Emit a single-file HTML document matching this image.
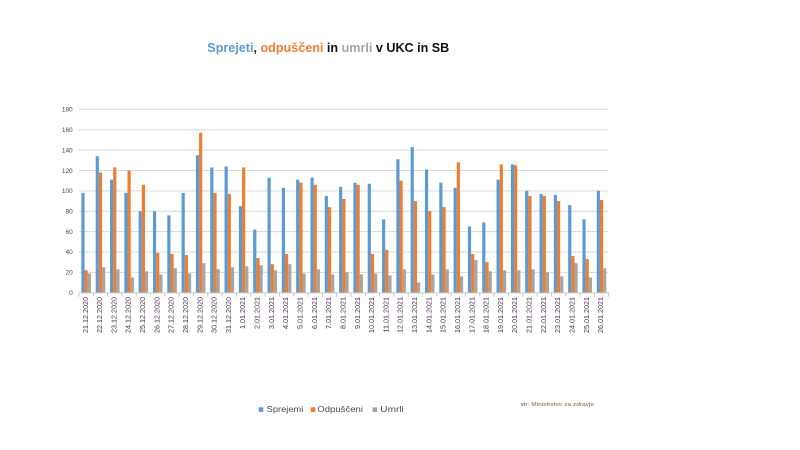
<!DOCTYPE html>
<html>
<head>
<meta charset="utf-8">
<style>
html,body{margin:0;padding:0;background:#fff;}
svg{display:block;}
text{font-family:"Liberation Sans",Arial,sans-serif;}
</style>
</head>
<body>
<svg width="800" height="450" viewBox="0 0 800 450" xmlns="http://www.w3.org/2000/svg">
<rect width="800" height="450" fill="#fff"/>
<!-- Title -->
<text x="207.3" y="52" font-size="13" font-weight="bold" textLength="242" lengthAdjust="spacingAndGlyphs"><tspan fill="#5b9bd5">Sprejeti</tspan><tspan fill="#222">, </tspan><tspan fill="#ed7d31">odpuščeni</tspan><tspan fill="#111"> in </tspan><tspan fill="#a5a5a5">umrli</tspan><tspan fill="#111"> v UKC in SB</tspan></text>

<!-- gridlines -->
<g stroke="#d9d9d9" stroke-width="1">
<line x1="79" x2="608.7" y1="272.33" y2="272.33"/>
<line x1="79" x2="608.7" y1="251.96" y2="251.96"/>
<line x1="79" x2="608.7" y1="231.59" y2="231.59"/>
<line x1="79" x2="608.7" y1="211.22" y2="211.22"/>
<line x1="79" x2="608.7" y1="190.85" y2="190.85"/>
<line x1="79" x2="608.7" y1="170.48" y2="170.48"/>
<line x1="79" x2="608.7" y1="150.11" y2="150.11"/>
<line x1="79" x2="608.7" y1="129.74" y2="129.74"/>
<line x1="79" x2="608.7" y1="109.37" y2="109.37"/>
</g>

<!-- y labels -->
<g font-size="6.5" fill="#454560" text-anchor="end">
<text x="72.7" y="295">0</text>
<text x="72.7" y="274.6">20</text>
<text x="72.7" y="254.2">40</text>
<text x="72.7" y="233.9">60</text>
<text x="72.7" y="213.5">80</text>
<text x="72.7" y="193.1">100</text>
<text x="72.7" y="172.8">120</text>
<text x="72.7" y="152.4">140</text>
<text x="72.7" y="132">160</text>
<text x="72.7" y="111.7">180</text>
</g>

<!-- bars -->
<g transform="translate(79,292.7) scale(14.316,-1.0185)">
<g fill="#5b9bd5">
<rect x="0.1667" y="0" width="0.2222" height="98"/>
<rect x="1.1667" y="0" width="0.2222" height="134"/>
<rect x="2.1667" y="0" width="0.2222" height="111"/>
<rect x="3.1667" y="0" width="0.2222" height="98"/>
<rect x="4.1667" y="0" width="0.2222" height="80"/>
<rect x="5.1667" y="0" width="0.2222" height="80"/>
<rect x="6.1667" y="0" width="0.2222" height="76"/>
<rect x="7.1667" y="0" width="0.2222" height="98"/>
<rect x="8.1667" y="0" width="0.2222" height="135"/>
<rect x="9.1667" y="0" width="0.2222" height="123"/>
<rect x="10.1667" y="0" width="0.2222" height="124"/>
<rect x="11.1667" y="0" width="0.2222" height="85"/>
<rect x="12.1667" y="0" width="0.2222" height="62"/>
<rect x="13.1667" y="0" width="0.2222" height="113"/>
<rect x="14.1667" y="0" width="0.2222" height="103"/>
<rect x="15.1667" y="0" width="0.2222" height="111"/>
<rect x="16.1667" y="0" width="0.2222" height="113"/>
<rect x="17.1667" y="0" width="0.2222" height="95"/>
<rect x="18.1667" y="0" width="0.2222" height="104"/>
<rect x="19.1667" y="0" width="0.2222" height="108"/>
<rect x="20.1667" y="0" width="0.2222" height="107"/>
<rect x="21.1667" y="0" width="0.2222" height="72"/>
<rect x="22.1667" y="0" width="0.2222" height="131"/>
<rect x="23.1667" y="0" width="0.2222" height="143"/>
<rect x="24.1667" y="0" width="0.2222" height="121"/>
<rect x="25.1667" y="0" width="0.2222" height="108"/>
<rect x="26.1667" y="0" width="0.2222" height="103"/>
<rect x="27.1667" y="0" width="0.2222" height="65"/>
<rect x="28.1667" y="0" width="0.2222" height="69"/>
<rect x="29.1667" y="0" width="0.2222" height="111"/>
<rect x="30.1667" y="0" width="0.2222" height="126"/>
<rect x="31.1667" y="0" width="0.2222" height="100"/>
<rect x="32.1667" y="0" width="0.2222" height="97"/>
<rect x="33.1667" y="0" width="0.2222" height="96"/>
<rect x="34.1667" y="0" width="0.2222" height="86"/>
<rect x="35.1667" y="0" width="0.2222" height="72"/>
<rect x="36.1667" y="0" width="0.2222" height="100"/>
</g>
<g fill="#ed7d31">
<rect x="0.3889" y="0" width="0.2222" height="22"/>
<rect x="1.3889" y="0" width="0.2222" height="118"/>
<rect x="2.3889" y="0" width="0.2222" height="123"/>
<rect x="3.3889" y="0" width="0.2222" height="120"/>
<rect x="4.3889" y="0" width="0.2222" height="106"/>
<rect x="5.3889" y="0" width="0.2222" height="39"/>
<rect x="6.3889" y="0" width="0.2222" height="38"/>
<rect x="7.3889" y="0" width="0.2222" height="37"/>
<rect x="8.3889" y="0" width="0.2222" height="157"/>
<rect x="9.3889" y="0" width="0.2222" height="98"/>
<rect x="10.3889" y="0" width="0.2222" height="97"/>
<rect x="11.3889" y="0" width="0.2222" height="123"/>
<rect x="12.3889" y="0" width="0.2222" height="34"/>
<rect x="13.3889" y="0" width="0.2222" height="28"/>
<rect x="14.3889" y="0" width="0.2222" height="38"/>
<rect x="15.3889" y="0" width="0.2222" height="108"/>
<rect x="16.3889" y="0" width="0.2222" height="106"/>
<rect x="17.3889" y="0" width="0.2222" height="84"/>
<rect x="18.3889" y="0" width="0.2222" height="92"/>
<rect x="19.3889" y="0" width="0.2222" height="106"/>
<rect x="20.3889" y="0" width="0.2222" height="38"/>
<rect x="21.3889" y="0" width="0.2222" height="42"/>
<rect x="22.3889" y="0" width="0.2222" height="110"/>
<rect x="23.3889" y="0" width="0.2222" height="90"/>
<rect x="24.3889" y="0" width="0.2222" height="80"/>
<rect x="25.3889" y="0" width="0.2222" height="84"/>
<rect x="26.3889" y="0" width="0.2222" height="128"/>
<rect x="27.3889" y="0" width="0.2222" height="38"/>
<rect x="28.3889" y="0" width="0.2222" height="30"/>
<rect x="29.3889" y="0" width="0.2222" height="126"/>
<rect x="30.3889" y="0" width="0.2222" height="125"/>
<rect x="31.3889" y="0" width="0.2222" height="95"/>
<rect x="32.3889" y="0" width="0.2222" height="95"/>
<rect x="33.3889" y="0" width="0.2222" height="90"/>
<rect x="34.3889" y="0" width="0.2222" height="36"/>
<rect x="35.3889" y="0" width="0.2222" height="33"/>
<rect x="36.3889" y="0" width="0.2222" height="91"/>
</g>
<g fill="#a5a5a5">
<rect x="0.6111" y="0" width="0.2222" height="19"/>
<rect x="1.6111" y="0" width="0.2222" height="25"/>
<rect x="2.6111" y="0" width="0.2222" height="23"/>
<rect x="3.6111" y="0" width="0.2222" height="15"/>
<rect x="4.6111" y="0" width="0.2222" height="21"/>
<rect x="5.6111" y="0" width="0.2222" height="18"/>
<rect x="6.6111" y="0" width="0.2222" height="24"/>
<rect x="7.6111" y="0" width="0.2222" height="19"/>
<rect x="8.6111" y="0" width="0.2222" height="29"/>
<rect x="9.6111" y="0" width="0.2222" height="23"/>
<rect x="10.6111" y="0" width="0.2222" height="25"/>
<rect x="11.6111" y="0" width="0.2222" height="26"/>
<rect x="12.6111" y="0" width="0.2222" height="27"/>
<rect x="13.6111" y="0" width="0.2222" height="22"/>
<rect x="14.6111" y="0" width="0.2222" height="28"/>
<rect x="15.6111" y="0" width="0.2222" height="19"/>
<rect x="16.6111" y="0" width="0.2222" height="23"/>
<rect x="17.6111" y="0" width="0.2222" height="18"/>
<rect x="18.6111" y="0" width="0.2222" height="20"/>
<rect x="19.6111" y="0" width="0.2222" height="18"/>
<rect x="20.6111" y="0" width="0.2222" height="19"/>
<rect x="21.6111" y="0" width="0.2222" height="17"/>
<rect x="22.6111" y="0" width="0.2222" height="23"/>
<rect x="23.6111" y="0" width="0.2222" height="10"/>
<rect x="24.6111" y="0" width="0.2222" height="18"/>
<rect x="25.6111" y="0" width="0.2222" height="23"/>
<rect x="26.6111" y="0" width="0.2222" height="16"/>
<rect x="27.6111" y="0" width="0.2222" height="32"/>
<rect x="28.6111" y="0" width="0.2222" height="21"/>
<rect x="29.6111" y="0" width="0.2222" height="22"/>
<rect x="30.6111" y="0" width="0.2222" height="22"/>
<rect x="31.6111" y="0" width="0.2222" height="23"/>
<rect x="32.6111" y="0" width="0.2222" height="20"/>
<rect x="33.6111" y="0" width="0.2222" height="16"/>
<rect x="34.6111" y="0" width="0.2222" height="29"/>
<rect x="35.6111" y="0" width="0.2222" height="15"/>
<rect x="36.6111" y="0" width="0.2222" height="24"/>
</g>
<!-- ticks -->
<path fill="none" stroke="#c8c8c8" stroke-width="1" vector-effect="non-scaling-stroke" d="M0,0v-4M1,0v-4M2,0v-4M3,0v-4M4,0v-4M5,0v-4M6,0v-4M7,0v-4M8,0v-4M9,0v-4M10,0v-4M11,0v-4M12,0v-4M13,0v-4M14,0v-4M15,0v-4M16,0v-4M17,0v-4M18,0v-4M19,0v-4M20,0v-4M21,0v-4M22,0v-4M23,0v-4M24,0v-4M25,0v-4M26,0v-4M27,0v-4M28,0v-4M29,0v-4M30,0v-4M31,0v-4M32,0v-4M33,0v-4M34,0v-4M35,0v-4M36,0v-4M37,0v-4"/>
</g>
<!-- axis line -->
<line x1="79" x2="608.7" y1="292.9" y2="292.9" stroke="#c8c8c8" stroke-width="1"/>

<!-- x labels -->
<g transform="translate(79,0)" font-size="7.2" fill="#4a3050" text-anchor="end">
<text transform="translate(8.76,297) rotate(-90)">21.12.2020</text>
<text transform="translate(23.08,297) rotate(-90)">22.12.2020</text>
<text transform="translate(37.39,297) rotate(-90)">23.12.2020</text>
<text transform="translate(51.71,297) rotate(-90)">24.12.2020</text>
<text transform="translate(66.02,297) rotate(-90)">25.12.2020</text>
<text transform="translate(80.34,297) rotate(-90)">26.12.2020</text>
<text transform="translate(94.66,297) rotate(-90)">27.12.2020</text>
<text transform="translate(108.97,297) rotate(-90)">28.12.2020</text>
<text transform="translate(123.29,297) rotate(-90)">29.12.2020</text>
<text transform="translate(137.60,297) rotate(-90)">30.12.2020</text>
<text transform="translate(151.92,297) rotate(-90)">31.12.2020</text>
<text transform="translate(166.24,297) rotate(-90)">1.01.2021</text>
<text transform="translate(180.55,297) rotate(-90)">2.01.2021</text>
<text transform="translate(194.87,297) rotate(-90)">3.01.2021</text>
<text transform="translate(209.18,297) rotate(-90)">4.01.2021</text>
<text transform="translate(223.50,297) rotate(-90)">5.01.2021</text>
<text transform="translate(237.82,297) rotate(-90)">6.01.2021</text>
<text transform="translate(252.13,297) rotate(-90)">7.01.2021</text>
<text transform="translate(266.45,297) rotate(-90)">8.01.2021</text>
<text transform="translate(280.76,297) rotate(-90)">9.01.2021</text>
<text transform="translate(295.08,297) rotate(-90)">10.01.2021</text>
<text transform="translate(309.40,297) rotate(-90)">11.01.2021</text>
<text transform="translate(323.71,297) rotate(-90)">12.01.2021</text>
<text transform="translate(338.03,297) rotate(-90)">13.01.2021</text>
<text transform="translate(352.34,297) rotate(-90)">14.01.2021</text>
<text transform="translate(366.66,297) rotate(-90)">15.01.2021</text>
<text transform="translate(380.98,297) rotate(-90)">16.01.2021</text>
<text transform="translate(395.29,297) rotate(-90)">17.01.2021</text>
<text transform="translate(409.61,297) rotate(-90)">18.01.2021</text>
<text transform="translate(423.92,297) rotate(-90)">19.01.2021</text>
<text transform="translate(438.24,297) rotate(-90)">20.01.2021</text>
<text transform="translate(452.56,297) rotate(-90)">21.01.2021</text>
<text transform="translate(466.87,297) rotate(-90)">22.01.2021</text>
<text transform="translate(481.19,297) rotate(-90)">23.01.2021</text>
<text transform="translate(495.50,297) rotate(-90)">24.01.2021</text>
<text transform="translate(509.82,297) rotate(-90)">25.01.2021</text>
<text transform="translate(524.14,297) rotate(-90)">26.01.2021</text>
</g>

<!-- legend -->
<rect x="258.7" y="407.3" width="4.6" height="4.6" fill="#5b9bd5"/>
<text x="266.7" y="412.2" font-size="8" fill="#4a4a5a" textLength="36.6" lengthAdjust="spacingAndGlyphs">Sprejemi</text>
<rect x="310.8" y="407.3" width="4.6" height="4.6" fill="#ed7d31"/>
<text x="317.3" y="412.2" font-size="8" fill="#4a4a5a" textLength="45.7" lengthAdjust="spacingAndGlyphs">Odpuščeni</text>
<rect x="372.5" y="407.3" width="4.6" height="4.6" fill="#a5a5a5"/>
<text x="380.3" y="412.2" font-size="8" fill="#4a4a5a" textLength="23.5" lengthAdjust="spacingAndGlyphs">Umrli</text>

<!-- source -->
<text x="520.7" y="406" font-size="5.5" fill="#5a4060" textLength="73.3" lengthAdjust="spacingAndGlyphs">vir: <tspan fill="#9a5a3a">Ministrstvo za zdravje</tspan></text>
</svg>
</body>
</html>
